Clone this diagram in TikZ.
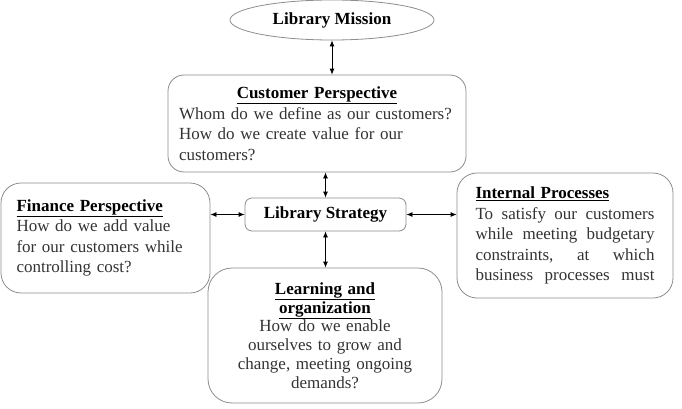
\documentclass[tikz,border=0pt]{standalone}
\usepackage{fontspec}
\setmainfont{Liberation Serif}
\usetikzlibrary{shapes.geometric,arrows.meta}
\newcommand\boxtitle[1]{\textcolor{black}{\textbf{\underline{#1}}}}

\begin{document}
\begin{tikzpicture}[x=1pt,y=1pt,
    font=\fontsize{17}{20.5}\selectfont,
    pbox/.style={draw=black!45, line width=0.8pt, rounded corners=16pt,
        text=black!80, inner sep=0pt},
    dbl/.style={{Latex[length=6pt,width=5pt]}-{Latex[length=6pt,width=5pt]},
        line width=0.8pt}]
    \useasboundingbox (0,0) rectangle (682,408);
    % mission and strategy
    \node[ellipse, draw=black!45, line width=0.8pt, minimum width=204pt,
        minimum height=40pt, inner sep=0pt] (mission) at (332,388)
        {\textbf{Library Mission}};
    \node[pbox, rounded corners=7pt, minimum width=161pt, minimum height=33pt]
        (strategy) at (325.5,193.5) {\textcolor{black}{\textbf{Library Strategy}}};
    % perspectives
    \node[pbox, minimum width=298pt, minimum height=97pt, text width=276pt,
        align=left] (customer) at (317,284.5)
        {\makebox[276pt]{\boxtitle{Customer Perspective}}\\
        \mbox{Whom do we define as our customers?}\\
        How do we create value for our\\
        customers?};
    \node[pbox, rounded corners=20pt, minimum width=209pt, minimum height=110pt,
        text width=178pt, align=left] (finance) at (105.5,170)
        {\boxtitle{Finance Perspective}\\
        How do we add value\\
        for our customers while\\
        controlling cost?};
    \node[pbox, rounded corners=20pt, minimum width=216pt, minimum height=125pt,
        text width=179pt, align=left] (internal) at (565,172.5)
        {\boxtitle{Internal Processes}\\
        \makebox[179pt]{To\hfill satisfy\hfill our\hfill customers}\\
        \makebox[179pt]{while\hfill meeting\hfill budgetary}\\
        \makebox[179pt]{constraints,\hfill at\hfill which}\\
        \makebox[179pt]{business\hfill processes\hfill must}};
    \node[pbox, rounded corners=24pt, minimum width=234pt, minimum height=135pt,
        text width=210pt, align=center, font=\fontsize{17}{18.8}\selectfont]
        (learning) at (325,72.5)
        {\boxtitle{Learning and}\\
        \boxtitle{organization}\\
        How do we enable\\
        ourselves to grow and\\
        change, meeting ongoing\\
        demands?};
    % links
    \draw[dbl] (mission) -- (mission |- customer.north);
    \draw[dbl] (strategy.north) -- (strategy.north |- customer.south);
    \draw[dbl] (strategy.south) -- (strategy.south |- learning.north);
    \draw[dbl] (strategy.west) -- (strategy.west -| finance.east);
    \draw[dbl] (strategy.east) -- (strategy.east -| internal.west);
\end{tikzpicture}
\end{document}
